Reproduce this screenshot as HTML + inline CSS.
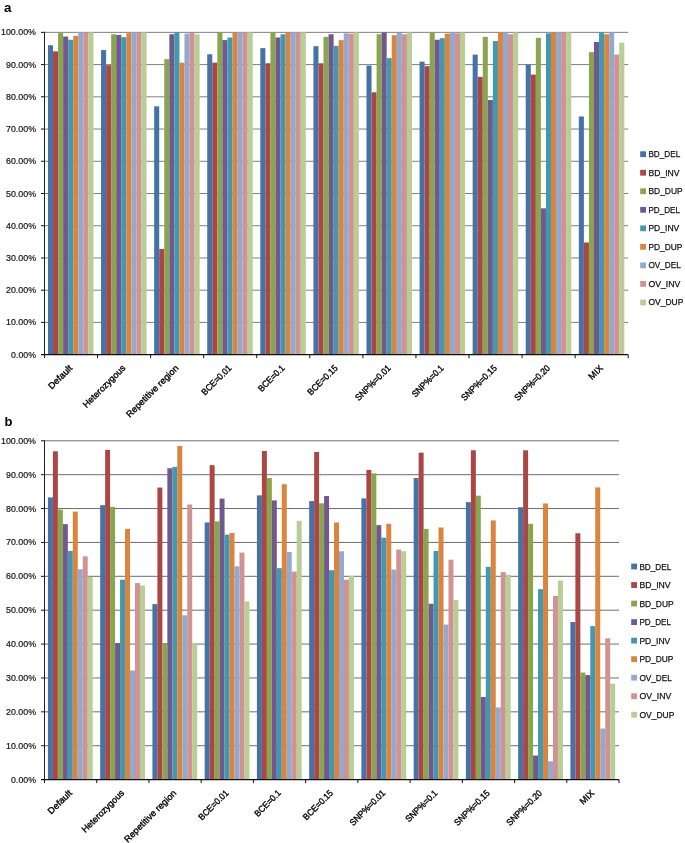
<!DOCTYPE html>
<html lang="en">
<head>
<meta charset="utf-8">
<title>Figure</title>
<style>
html,body{margin:0;padding:0;background:#fff;}
body{width:685px;height:843px;overflow:hidden;font-family:"Liberation Sans",sans-serif;}
svg{display:block;}
text{font-family:"Liberation Sans",sans-serif;fill:#1a1a1a;}
.yl{font-size:9.6px;fill:#111;stroke:#111;stroke-width:0.2px;}
.xl{font-size:9px;fill:#000;stroke:#000;stroke-width:0.35px;}
.lg{font-size:9.3px;fill:#111;stroke:#111;stroke-width:0.25px;}
.pl{font-weight:bold;fill:#000;}
</style>
</head>
<body>
<svg width="685" height="843" viewBox="0 0 685 843">
<rect x="0" y="0" width="685" height="843" fill="#ffffff"/>
<text x="4.1" y="12.1" class="pl" style="font-size:13.3px">a</text>
<text x="4.6" y="426.2" class="pl" style="font-size:13px">b</text>
<line x1="44.5" y1="322.42" x2="628.2" y2="322.42" stroke="#808080" stroke-width="1"/>
<line x1="44.5" y1="290.19" x2="628.2" y2="290.19" stroke="#808080" stroke-width="1"/>
<line x1="44.5" y1="257.96" x2="628.2" y2="257.96" stroke="#808080" stroke-width="1"/>
<line x1="44.5" y1="225.73" x2="628.2" y2="225.73" stroke="#808080" stroke-width="1"/>
<line x1="44.5" y1="193.50" x2="628.2" y2="193.50" stroke="#808080" stroke-width="1"/>
<line x1="44.5" y1="161.27" x2="628.2" y2="161.27" stroke="#808080" stroke-width="1"/>
<line x1="44.5" y1="129.04" x2="628.2" y2="129.04" stroke="#808080" stroke-width="1"/>
<line x1="44.5" y1="96.81" x2="628.2" y2="96.81" stroke="#808080" stroke-width="1"/>
<line x1="44.5" y1="64.58" x2="628.2" y2="64.58" stroke="#808080" stroke-width="1"/>
<line x1="44.5" y1="32.35" x2="628.2" y2="32.35" stroke="#808080" stroke-width="1"/>
<rect x="47.99" y="45.24" width="5.05" height="309.41" fill="#4572A7"/>
<rect x="53.04" y="51.37" width="5.05" height="303.28" fill="#AA4643"/>
<rect x="58.10" y="32.99" width="5.05" height="321.66" fill="#89A54E"/>
<rect x="63.15" y="36.54" width="5.05" height="318.11" fill="#71588F"/>
<rect x="68.20" y="39.76" width="5.05" height="314.89" fill="#4198AF"/>
<rect x="73.26" y="35.90" width="5.05" height="318.75" fill="#DB843D"/>
<rect x="78.31" y="32.35" width="5.05" height="322.30" fill="#93A9CF"/>
<rect x="83.37" y="32.35" width="5.05" height="322.30" fill="#D19392"/>
<rect x="88.42" y="32.35" width="5.05" height="322.30" fill="#B9CD96"/>
<rect x="101.07" y="50.08" width="5.05" height="304.57" fill="#4572A7"/>
<rect x="106.13" y="65.22" width="5.05" height="289.43" fill="#AA4643"/>
<rect x="111.18" y="34.28" width="5.05" height="320.37" fill="#89A54E"/>
<rect x="116.23" y="34.93" width="5.05" height="319.72" fill="#71588F"/>
<rect x="121.29" y="37.18" width="5.05" height="317.47" fill="#4198AF"/>
<rect x="126.34" y="33.16" width="5.05" height="321.49" fill="#DB843D"/>
<rect x="131.40" y="32.35" width="5.05" height="322.30" fill="#93A9CF"/>
<rect x="136.45" y="32.35" width="5.05" height="322.30" fill="#D19392"/>
<rect x="141.50" y="32.35" width="5.05" height="322.30" fill="#B9CD96"/>
<rect x="154.16" y="106.32" width="5.05" height="248.33" fill="#4572A7"/>
<rect x="159.21" y="248.94" width="5.05" height="105.71" fill="#AA4643"/>
<rect x="164.26" y="59.10" width="5.05" height="295.55" fill="#89A54E"/>
<rect x="169.32" y="34.28" width="5.05" height="320.37" fill="#71588F"/>
<rect x="174.37" y="32.35" width="5.05" height="322.30" fill="#4198AF"/>
<rect x="179.43" y="62.65" width="5.05" height="292.00" fill="#DB843D"/>
<rect x="184.48" y="33.64" width="5.05" height="321.01" fill="#93A9CF"/>
<rect x="189.53" y="32.99" width="5.05" height="321.66" fill="#D19392"/>
<rect x="194.59" y="34.28" width="5.05" height="320.37" fill="#B9CD96"/>
<rect x="207.24" y="54.27" width="5.05" height="300.38" fill="#4572A7"/>
<rect x="212.29" y="62.65" width="5.05" height="292.00" fill="#AA4643"/>
<rect x="217.35" y="32.35" width="5.05" height="322.30" fill="#89A54E"/>
<rect x="222.40" y="40.09" width="5.05" height="314.56" fill="#71588F"/>
<rect x="227.46" y="37.51" width="5.05" height="317.14" fill="#4198AF"/>
<rect x="232.51" y="32.67" width="5.05" height="321.98" fill="#DB843D"/>
<rect x="237.56" y="32.35" width="5.05" height="322.30" fill="#93A9CF"/>
<rect x="242.62" y="32.35" width="5.05" height="322.30" fill="#D19392"/>
<rect x="247.67" y="32.35" width="5.05" height="322.30" fill="#B9CD96"/>
<rect x="260.32" y="48.14" width="5.05" height="306.51" fill="#4572A7"/>
<rect x="265.38" y="63.29" width="5.05" height="291.36" fill="#AA4643"/>
<rect x="270.43" y="32.35" width="5.05" height="322.30" fill="#89A54E"/>
<rect x="275.49" y="37.51" width="5.05" height="317.14" fill="#71588F"/>
<rect x="280.54" y="34.28" width="5.05" height="320.37" fill="#4198AF"/>
<rect x="285.59" y="32.35" width="5.05" height="322.30" fill="#DB843D"/>
<rect x="290.65" y="32.35" width="5.05" height="322.30" fill="#93A9CF"/>
<rect x="295.70" y="32.35" width="5.05" height="322.30" fill="#D19392"/>
<rect x="300.75" y="32.35" width="5.05" height="322.30" fill="#B9CD96"/>
<rect x="313.41" y="46.21" width="5.05" height="308.44" fill="#4572A7"/>
<rect x="318.46" y="63.29" width="5.05" height="291.36" fill="#AA4643"/>
<rect x="323.52" y="36.86" width="5.05" height="317.79" fill="#89A54E"/>
<rect x="328.57" y="34.28" width="5.05" height="320.37" fill="#71588F"/>
<rect x="333.62" y="45.89" width="5.05" height="308.76" fill="#4198AF"/>
<rect x="338.68" y="40.09" width="5.05" height="314.56" fill="#DB843D"/>
<rect x="343.73" y="33.32" width="5.05" height="321.33" fill="#93A9CF"/>
<rect x="348.78" y="33.64" width="5.05" height="321.01" fill="#D19392"/>
<rect x="353.84" y="32.35" width="5.05" height="322.30" fill="#B9CD96"/>
<rect x="366.49" y="65.55" width="5.05" height="289.10" fill="#4572A7"/>
<rect x="371.55" y="92.30" width="5.05" height="262.35" fill="#AA4643"/>
<rect x="376.60" y="34.28" width="5.05" height="320.37" fill="#89A54E"/>
<rect x="381.65" y="32.35" width="5.05" height="322.30" fill="#71588F"/>
<rect x="386.71" y="58.13" width="5.05" height="296.52" fill="#4198AF"/>
<rect x="391.76" y="35.25" width="5.05" height="319.40" fill="#DB843D"/>
<rect x="396.81" y="32.99" width="5.05" height="321.66" fill="#93A9CF"/>
<rect x="401.87" y="34.28" width="5.05" height="320.37" fill="#D19392"/>
<rect x="406.92" y="32.35" width="5.05" height="322.30" fill="#B9CD96"/>
<rect x="419.58" y="61.68" width="5.05" height="292.97" fill="#4572A7"/>
<rect x="424.63" y="66.19" width="5.05" height="288.46" fill="#AA4643"/>
<rect x="429.68" y="32.35" width="5.05" height="322.30" fill="#89A54E"/>
<rect x="434.74" y="39.76" width="5.05" height="314.89" fill="#71588F"/>
<rect x="439.79" y="38.15" width="5.05" height="316.50" fill="#4198AF"/>
<rect x="444.84" y="33.64" width="5.05" height="321.01" fill="#DB843D"/>
<rect x="449.90" y="32.35" width="5.05" height="322.30" fill="#93A9CF"/>
<rect x="454.95" y="33.32" width="5.05" height="321.33" fill="#D19392"/>
<rect x="460.01" y="32.35" width="5.05" height="322.30" fill="#B9CD96"/>
<rect x="472.66" y="54.59" width="5.05" height="300.06" fill="#4572A7"/>
<rect x="477.71" y="76.83" width="5.05" height="277.82" fill="#AA4643"/>
<rect x="482.77" y="36.86" width="5.05" height="317.79" fill="#89A54E"/>
<rect x="487.82" y="100.03" width="5.05" height="254.62" fill="#71588F"/>
<rect x="492.87" y="41.05" width="5.05" height="313.60" fill="#4198AF"/>
<rect x="497.93" y="32.35" width="5.05" height="322.30" fill="#DB843D"/>
<rect x="502.98" y="32.35" width="5.05" height="322.30" fill="#93A9CF"/>
<rect x="508.04" y="34.28" width="5.05" height="320.37" fill="#D19392"/>
<rect x="513.09" y="32.35" width="5.05" height="322.30" fill="#B9CD96"/>
<rect x="525.74" y="64.58" width="5.05" height="290.07" fill="#4572A7"/>
<rect x="530.80" y="74.57" width="5.05" height="280.08" fill="#AA4643"/>
<rect x="535.85" y="37.83" width="5.05" height="316.82" fill="#89A54E"/>
<rect x="540.90" y="208.33" width="5.05" height="146.32" fill="#71588F"/>
<rect x="545.96" y="33.32" width="5.05" height="321.33" fill="#4198AF"/>
<rect x="551.01" y="32.35" width="5.05" height="322.30" fill="#DB843D"/>
<rect x="556.07" y="32.35" width="5.05" height="322.30" fill="#93A9CF"/>
<rect x="561.12" y="32.35" width="5.05" height="322.30" fill="#D19392"/>
<rect x="566.17" y="32.35" width="5.05" height="322.30" fill="#B9CD96"/>
<rect x="578.83" y="116.47" width="5.05" height="238.18" fill="#4572A7"/>
<rect x="583.88" y="242.49" width="5.05" height="112.16" fill="#AA4643"/>
<rect x="588.93" y="52.17" width="5.05" height="302.48" fill="#89A54E"/>
<rect x="593.99" y="42.02" width="5.05" height="312.63" fill="#71588F"/>
<rect x="599.04" y="32.35" width="5.05" height="322.30" fill="#4198AF"/>
<rect x="604.10" y="34.28" width="5.05" height="320.37" fill="#DB843D"/>
<rect x="609.15" y="32.35" width="5.05" height="322.30" fill="#93A9CF"/>
<rect x="614.20" y="54.59" width="5.05" height="300.06" fill="#D19392"/>
<rect x="619.26" y="42.66" width="5.05" height="311.99" fill="#B9CD96"/>
<line x1="44.5" y1="31.85" x2="44.5" y2="358.15" stroke="#222" stroke-width="1"/>
<line x1="41.0" y1="354.65" x2="628.2" y2="354.65" stroke="#111" stroke-width="1.2"/>
<line x1="41.0" y1="322.42" x2="44.5" y2="322.42" stroke="#111" stroke-width="1"/>
<line x1="41.0" y1="290.19" x2="44.5" y2="290.19" stroke="#111" stroke-width="1"/>
<line x1="41.0" y1="257.96" x2="44.5" y2="257.96" stroke="#111" stroke-width="1"/>
<line x1="41.0" y1="225.73" x2="44.5" y2="225.73" stroke="#111" stroke-width="1"/>
<line x1="41.0" y1="193.50" x2="44.5" y2="193.50" stroke="#111" stroke-width="1"/>
<line x1="41.0" y1="161.27" x2="44.5" y2="161.27" stroke="#111" stroke-width="1"/>
<line x1="41.0" y1="129.04" x2="44.5" y2="129.04" stroke="#111" stroke-width="1"/>
<line x1="41.0" y1="96.81" x2="44.5" y2="96.81" stroke="#111" stroke-width="1"/>
<line x1="41.0" y1="64.58" x2="44.5" y2="64.58" stroke="#111" stroke-width="1"/>
<line x1="41.0" y1="32.35" x2="44.5" y2="32.35" stroke="#111" stroke-width="1"/>
<line x1="97.56" y1="354.65" x2="97.56" y2="358.15" stroke="#111" stroke-width="1"/>
<line x1="150.63" y1="354.65" x2="150.63" y2="358.15" stroke="#111" stroke-width="1"/>
<line x1="203.69" y1="354.65" x2="203.69" y2="358.15" stroke="#111" stroke-width="1"/>
<line x1="256.75" y1="354.65" x2="256.75" y2="358.15" stroke="#111" stroke-width="1"/>
<line x1="309.82" y1="354.65" x2="309.82" y2="358.15" stroke="#111" stroke-width="1"/>
<line x1="362.88" y1="354.65" x2="362.88" y2="358.15" stroke="#111" stroke-width="1"/>
<line x1="415.95" y1="354.65" x2="415.95" y2="358.15" stroke="#111" stroke-width="1"/>
<line x1="469.01" y1="354.65" x2="469.01" y2="358.15" stroke="#111" stroke-width="1"/>
<line x1="522.07" y1="354.65" x2="522.07" y2="358.15" stroke="#111" stroke-width="1"/>
<line x1="575.14" y1="354.65" x2="575.14" y2="358.15" stroke="#111" stroke-width="1"/>
<line x1="628.20" y1="354.65" x2="628.20" y2="358.15" stroke="#111" stroke-width="1"/>
<text x="36.0" y="357.65" text-anchor="end" textLength="24.9" lengthAdjust="spacingAndGlyphs" class="yl">0.00%</text>
<text x="36.0" y="325.42" text-anchor="end" textLength="30.0" lengthAdjust="spacingAndGlyphs" class="yl">10.00%</text>
<text x="36.0" y="293.19" text-anchor="end" textLength="30.0" lengthAdjust="spacingAndGlyphs" class="yl">20.00%</text>
<text x="36.0" y="260.96" text-anchor="end" textLength="30.0" lengthAdjust="spacingAndGlyphs" class="yl">30.00%</text>
<text x="36.0" y="228.73" text-anchor="end" textLength="30.0" lengthAdjust="spacingAndGlyphs" class="yl">40.00%</text>
<text x="36.0" y="196.50" text-anchor="end" textLength="30.0" lengthAdjust="spacingAndGlyphs" class="yl">50.00%</text>
<text x="36.0" y="164.27" text-anchor="end" textLength="30.0" lengthAdjust="spacingAndGlyphs" class="yl">60.00%</text>
<text x="36.0" y="132.04" text-anchor="end" textLength="30.0" lengthAdjust="spacingAndGlyphs" class="yl">70.00%</text>
<text x="36.0" y="99.81" text-anchor="end" textLength="30.0" lengthAdjust="spacingAndGlyphs" class="yl">80.00%</text>
<text x="36.0" y="67.58" text-anchor="end" textLength="30.0" lengthAdjust="spacingAndGlyphs" class="yl">90.00%</text>
<text x="36.0" y="35.35" text-anchor="end" textLength="35.0" lengthAdjust="spacingAndGlyphs" class="yl">100.00%</text>
<text transform="translate(72.93,368.65) rotate(-45)" text-anchor="end" textLength="29.9" lengthAdjust="spacingAndGlyphs" class="xl">Default</text>
<text transform="translate(126.00,368.65) rotate(-45)" text-anchor="end" textLength="55.9" lengthAdjust="spacingAndGlyphs" class="xl">Heterozygous</text>
<text transform="translate(179.06,368.65) rotate(-45)" text-anchor="end" textLength="69.7" lengthAdjust="spacingAndGlyphs" class="xl">Repetitive region</text>
<text transform="translate(232.12,368.65) rotate(-45)" text-anchor="end" textLength="38.4" lengthAdjust="spacingAndGlyphs" class="xl">BCE=0.01</text>
<text transform="translate(285.19,368.65) rotate(-45)" text-anchor="end" textLength="33.3" lengthAdjust="spacingAndGlyphs" class="xl">BCE=0.1</text>
<text transform="translate(338.25,368.65) rotate(-45)" text-anchor="end" textLength="38.4" lengthAdjust="spacingAndGlyphs" class="xl">BCE=0.15</text>
<text transform="translate(391.31,368.65) rotate(-45)" text-anchor="end" textLength="46.1" lengthAdjust="spacingAndGlyphs" class="xl">SNP%=0.01</text>
<text transform="translate(444.38,368.65) rotate(-45)" text-anchor="end" textLength="41.0" lengthAdjust="spacingAndGlyphs" class="xl">SNP%=0.1</text>
<text transform="translate(497.44,368.65) rotate(-45)" text-anchor="end" textLength="46.1" lengthAdjust="spacingAndGlyphs" class="xl">SNP%=0.15</text>
<text transform="translate(550.50,368.65) rotate(-45)" text-anchor="end" textLength="46.1" lengthAdjust="spacingAndGlyphs" class="xl">SNP%=0.20</text>
<text transform="translate(603.57,368.65) rotate(-45)" text-anchor="end" textLength="16.3" lengthAdjust="spacingAndGlyphs" class="xl">MIX</text>
<rect x="640.2" y="151.30" width="5.8" height="5.8" fill="#4572A7"/>
<text x="648.4000000000001" y="157.25" textLength="31.8" lengthAdjust="spacingAndGlyphs" class="lg">BD_DEL</text>
<rect x="640.2" y="169.83" width="5.8" height="5.8" fill="#AA4643"/>
<text x="648.4000000000001" y="175.78" textLength="31.2" lengthAdjust="spacingAndGlyphs" class="lg">BD_INV</text>
<rect x="640.2" y="188.36" width="5.8" height="5.8" fill="#89A54E"/>
<text x="648.4000000000001" y="194.31" textLength="34.3" lengthAdjust="spacingAndGlyphs" class="lg">BD_DUP</text>
<rect x="640.2" y="206.89" width="5.8" height="5.8" fill="#71588F"/>
<text x="648.4000000000001" y="212.84" textLength="31.5" lengthAdjust="spacingAndGlyphs" class="lg">PD_DEL</text>
<rect x="640.2" y="225.42" width="5.8" height="5.8" fill="#4198AF"/>
<text x="648.4000000000001" y="231.37" textLength="30.9" lengthAdjust="spacingAndGlyphs" class="lg">PD_INV</text>
<rect x="640.2" y="243.95" width="5.8" height="5.8" fill="#DB843D"/>
<text x="648.4000000000001" y="249.90" textLength="34.0" lengthAdjust="spacingAndGlyphs" class="lg">PD_DUP</text>
<rect x="640.2" y="262.48" width="5.8" height="5.8" fill="#93A9CF"/>
<text x="648.4000000000001" y="268.43" textLength="32.5" lengthAdjust="spacingAndGlyphs" class="lg">OV_DEL</text>
<rect x="640.2" y="281.01" width="5.8" height="5.8" fill="#D19392"/>
<text x="648.4000000000001" y="286.96" textLength="31.9" lengthAdjust="spacingAndGlyphs" class="lg">OV_INV</text>
<rect x="640.2" y="299.54" width="5.8" height="5.8" fill="#B9CD96"/>
<text x="648.4000000000001" y="305.49" textLength="35.0" lengthAdjust="spacingAndGlyphs" class="lg">OV_DUP</text>
<line x1="44.5" y1="745.72" x2="619.0" y2="745.72" stroke="#6e6e6e" stroke-width="1"/>
<line x1="44.5" y1="711.84" x2="619.0" y2="711.84" stroke="#6e6e6e" stroke-width="1"/>
<line x1="44.5" y1="677.96" x2="619.0" y2="677.96" stroke="#6e6e6e" stroke-width="1"/>
<line x1="44.5" y1="644.08" x2="619.0" y2="644.08" stroke="#6e6e6e" stroke-width="1"/>
<line x1="44.5" y1="610.20" x2="619.0" y2="610.20" stroke="#6e6e6e" stroke-width="1"/>
<line x1="44.5" y1="576.32" x2="619.0" y2="576.32" stroke="#6e6e6e" stroke-width="1"/>
<line x1="44.5" y1="542.44" x2="619.0" y2="542.44" stroke="#6e6e6e" stroke-width="1"/>
<line x1="44.5" y1="508.56" x2="619.0" y2="508.56" stroke="#6e6e6e" stroke-width="1"/>
<line x1="44.5" y1="474.68" x2="619.0" y2="474.68" stroke="#6e6e6e" stroke-width="1"/>
<line x1="44.5" y1="440.80" x2="619.0" y2="440.80" stroke="#6e6e6e" stroke-width="1"/>
<rect x="47.93" y="497.38" width="4.97" height="282.22" fill="#4572A7"/>
<rect x="52.90" y="451.30" width="4.97" height="328.30" fill="#AA4643"/>
<rect x="57.88" y="509.58" width="4.97" height="270.02" fill="#89A54E"/>
<rect x="62.85" y="524.14" width="4.97" height="255.46" fill="#71588F"/>
<rect x="67.83" y="550.91" width="4.97" height="228.69" fill="#4198AF"/>
<rect x="72.80" y="511.61" width="4.97" height="267.99" fill="#DB843D"/>
<rect x="77.77" y="569.21" width="4.97" height="210.39" fill="#93A9CF"/>
<rect x="82.75" y="556.33" width="4.97" height="223.27" fill="#D19392"/>
<rect x="87.72" y="576.83" width="4.97" height="202.77" fill="#B9CD96"/>
<rect x="100.18" y="505.17" width="4.97" height="274.43" fill="#4572A7"/>
<rect x="105.15" y="449.95" width="4.97" height="329.65" fill="#AA4643"/>
<rect x="110.13" y="506.87" width="4.97" height="272.73" fill="#89A54E"/>
<rect x="115.10" y="643.06" width="4.97" height="136.54" fill="#71588F"/>
<rect x="120.07" y="579.71" width="4.97" height="199.89" fill="#4198AF"/>
<rect x="125.05" y="528.89" width="4.97" height="250.71" fill="#DB843D"/>
<rect x="130.02" y="670.51" width="4.97" height="109.09" fill="#93A9CF"/>
<rect x="135.00" y="583.10" width="4.97" height="196.50" fill="#D19392"/>
<rect x="139.97" y="585.47" width="4.97" height="194.13" fill="#B9CD96"/>
<rect x="152.43" y="604.10" width="4.97" height="175.50" fill="#4572A7"/>
<rect x="157.40" y="487.55" width="4.97" height="292.05" fill="#AA4643"/>
<rect x="162.37" y="643.06" width="4.97" height="136.54" fill="#89A54E"/>
<rect x="167.35" y="468.24" width="4.97" height="311.36" fill="#71588F"/>
<rect x="172.32" y="466.89" width="4.97" height="312.71" fill="#4198AF"/>
<rect x="177.30" y="445.88" width="4.97" height="333.72" fill="#DB843D"/>
<rect x="182.27" y="615.28" width="4.97" height="164.32" fill="#93A9CF"/>
<rect x="187.24" y="504.49" width="4.97" height="275.11" fill="#D19392"/>
<rect x="192.22" y="643.06" width="4.97" height="136.54" fill="#B9CD96"/>
<rect x="204.67" y="522.45" width="4.97" height="257.15" fill="#4572A7"/>
<rect x="209.65" y="465.19" width="4.97" height="314.41" fill="#AA4643"/>
<rect x="214.62" y="521.43" width="4.97" height="258.17" fill="#89A54E"/>
<rect x="219.59" y="498.57" width="4.97" height="281.03" fill="#71588F"/>
<rect x="224.57" y="534.65" width="4.97" height="244.95" fill="#4198AF"/>
<rect x="229.54" y="532.95" width="4.97" height="246.65" fill="#DB843D"/>
<rect x="234.52" y="566.33" width="4.97" height="213.27" fill="#93A9CF"/>
<rect x="239.49" y="552.60" width="4.97" height="227.00" fill="#D19392"/>
<rect x="244.46" y="601.39" width="4.97" height="178.21" fill="#B9CD96"/>
<rect x="256.92" y="495.35" width="4.97" height="284.25" fill="#4572A7"/>
<rect x="261.89" y="450.96" width="4.97" height="328.64" fill="#AA4643"/>
<rect x="266.87" y="478.07" width="4.97" height="301.53" fill="#89A54E"/>
<rect x="271.84" y="500.43" width="4.97" height="279.17" fill="#71588F"/>
<rect x="276.82" y="568.19" width="4.97" height="211.41" fill="#4198AF"/>
<rect x="281.79" y="484.17" width="4.97" height="295.43" fill="#DB843D"/>
<rect x="286.76" y="552.10" width="4.97" height="227.50" fill="#93A9CF"/>
<rect x="291.74" y="571.58" width="4.97" height="208.02" fill="#D19392"/>
<rect x="296.71" y="520.76" width="4.97" height="258.84" fill="#B9CD96"/>
<rect x="309.17" y="501.11" width="4.97" height="278.49" fill="#4572A7"/>
<rect x="314.14" y="451.98" width="4.97" height="327.62" fill="#AA4643"/>
<rect x="319.11" y="503.31" width="4.97" height="276.29" fill="#89A54E"/>
<rect x="324.09" y="496.02" width="4.97" height="283.58" fill="#71588F"/>
<rect x="329.06" y="570.22" width="4.97" height="209.38" fill="#4198AF"/>
<rect x="334.04" y="522.45" width="4.97" height="257.15" fill="#DB843D"/>
<rect x="339.01" y="551.25" width="4.97" height="228.35" fill="#93A9CF"/>
<rect x="343.99" y="579.71" width="4.97" height="199.89" fill="#D19392"/>
<rect x="348.96" y="575.98" width="4.97" height="203.62" fill="#B9CD96"/>
<rect x="361.41" y="498.40" width="4.97" height="281.20" fill="#4572A7"/>
<rect x="366.39" y="469.94" width="4.97" height="309.66" fill="#AA4643"/>
<rect x="371.36" y="473.32" width="4.97" height="306.28" fill="#89A54E"/>
<rect x="376.34" y="525.16" width="4.97" height="254.44" fill="#71588F"/>
<rect x="381.31" y="537.70" width="4.97" height="241.90" fill="#4198AF"/>
<rect x="386.28" y="523.81" width="4.97" height="255.79" fill="#DB843D"/>
<rect x="391.26" y="569.54" width="4.97" height="210.06" fill="#93A9CF"/>
<rect x="396.23" y="549.55" width="4.97" height="230.05" fill="#D19392"/>
<rect x="401.21" y="551.25" width="4.97" height="228.35" fill="#B9CD96"/>
<rect x="413.66" y="478.07" width="4.97" height="301.53" fill="#4572A7"/>
<rect x="418.64" y="452.66" width="4.97" height="326.94" fill="#AA4643"/>
<rect x="423.61" y="528.89" width="4.97" height="250.71" fill="#89A54E"/>
<rect x="428.58" y="603.76" width="4.97" height="175.84" fill="#71588F"/>
<rect x="433.56" y="550.91" width="4.97" height="228.69" fill="#4198AF"/>
<rect x="438.53" y="527.53" width="4.97" height="252.07" fill="#DB843D"/>
<rect x="443.51" y="624.60" width="4.97" height="155.00" fill="#93A9CF"/>
<rect x="448.48" y="559.72" width="4.97" height="219.88" fill="#D19392"/>
<rect x="453.45" y="600.04" width="4.97" height="179.56" fill="#B9CD96"/>
<rect x="465.91" y="502.12" width="4.97" height="277.48" fill="#4572A7"/>
<rect x="470.88" y="450.29" width="4.97" height="329.31" fill="#AA4643"/>
<rect x="475.86" y="495.69" width="4.97" height="283.91" fill="#89A54E"/>
<rect x="480.83" y="696.93" width="4.97" height="82.67" fill="#71588F"/>
<rect x="485.80" y="566.83" width="4.97" height="212.77" fill="#4198AF"/>
<rect x="490.78" y="520.42" width="4.97" height="259.18" fill="#DB843D"/>
<rect x="495.75" y="707.44" width="4.97" height="72.16" fill="#93A9CF"/>
<rect x="500.73" y="572.09" width="4.97" height="207.51" fill="#D19392"/>
<rect x="505.70" y="574.63" width="4.97" height="204.97" fill="#B9CD96"/>
<rect x="518.16" y="507.20" width="4.97" height="272.40" fill="#4572A7"/>
<rect x="523.13" y="450.29" width="4.97" height="329.31" fill="#AA4643"/>
<rect x="528.10" y="523.81" width="4.97" height="255.79" fill="#89A54E"/>
<rect x="533.08" y="755.55" width="4.97" height="24.05" fill="#71588F"/>
<rect x="538.05" y="589.19" width="4.97" height="190.41" fill="#4198AF"/>
<rect x="543.03" y="503.48" width="4.97" height="276.12" fill="#DB843D"/>
<rect x="548.00" y="761.30" width="4.97" height="18.30" fill="#93A9CF"/>
<rect x="552.97" y="595.97" width="4.97" height="183.63" fill="#D19392"/>
<rect x="557.95" y="580.56" width="4.97" height="199.04" fill="#B9CD96"/>
<rect x="570.40" y="622.06" width="4.97" height="157.54" fill="#4572A7"/>
<rect x="575.38" y="533.29" width="4.97" height="246.31" fill="#AA4643"/>
<rect x="580.35" y="672.54" width="4.97" height="107.06" fill="#89A54E"/>
<rect x="585.33" y="675.08" width="4.97" height="104.52" fill="#71588F"/>
<rect x="590.30" y="626.12" width="4.97" height="153.48" fill="#4198AF"/>
<rect x="595.27" y="487.39" width="4.97" height="292.21" fill="#DB843D"/>
<rect x="600.25" y="728.58" width="4.97" height="51.02" fill="#93A9CF"/>
<rect x="605.22" y="638.32" width="4.97" height="141.28" fill="#D19392"/>
<rect x="610.20" y="683.72" width="4.97" height="95.88" fill="#B9CD96"/>
<line x1="44.5" y1="440.3" x2="44.5" y2="783.1" stroke="#222" stroke-width="1"/>
<line x1="41.0" y1="779.6" x2="619.0" y2="779.6" stroke="#111" stroke-width="1.2"/>
<line x1="41.0" y1="745.72" x2="44.5" y2="745.72" stroke="#111" stroke-width="1"/>
<line x1="41.0" y1="711.84" x2="44.5" y2="711.84" stroke="#111" stroke-width="1"/>
<line x1="41.0" y1="677.96" x2="44.5" y2="677.96" stroke="#111" stroke-width="1"/>
<line x1="41.0" y1="644.08" x2="44.5" y2="644.08" stroke="#111" stroke-width="1"/>
<line x1="41.0" y1="610.20" x2="44.5" y2="610.20" stroke="#111" stroke-width="1"/>
<line x1="41.0" y1="576.32" x2="44.5" y2="576.32" stroke="#111" stroke-width="1"/>
<line x1="41.0" y1="542.44" x2="44.5" y2="542.44" stroke="#111" stroke-width="1"/>
<line x1="41.0" y1="508.56" x2="44.5" y2="508.56" stroke="#111" stroke-width="1"/>
<line x1="41.0" y1="474.68" x2="44.5" y2="474.68" stroke="#111" stroke-width="1"/>
<line x1="41.0" y1="440.80" x2="44.5" y2="440.80" stroke="#111" stroke-width="1"/>
<line x1="96.73" y1="779.6" x2="96.73" y2="783.1" stroke="#111" stroke-width="1"/>
<line x1="148.95" y1="779.6" x2="148.95" y2="783.1" stroke="#111" stroke-width="1"/>
<line x1="201.18" y1="779.6" x2="201.18" y2="783.1" stroke="#111" stroke-width="1"/>
<line x1="253.41" y1="779.6" x2="253.41" y2="783.1" stroke="#111" stroke-width="1"/>
<line x1="305.64" y1="779.6" x2="305.64" y2="783.1" stroke="#111" stroke-width="1"/>
<line x1="357.86" y1="779.6" x2="357.86" y2="783.1" stroke="#111" stroke-width="1"/>
<line x1="410.09" y1="779.6" x2="410.09" y2="783.1" stroke="#111" stroke-width="1"/>
<line x1="462.32" y1="779.6" x2="462.32" y2="783.1" stroke="#111" stroke-width="1"/>
<line x1="514.55" y1="779.6" x2="514.55" y2="783.1" stroke="#111" stroke-width="1"/>
<line x1="566.77" y1="779.6" x2="566.77" y2="783.1" stroke="#111" stroke-width="1"/>
<line x1="619.00" y1="779.6" x2="619.00" y2="783.1" stroke="#111" stroke-width="1"/>
<text x="36.0" y="782.60" text-anchor="end" textLength="24.9" lengthAdjust="spacingAndGlyphs" class="yl">0.00%</text>
<text x="36.0" y="748.72" text-anchor="end" textLength="30.0" lengthAdjust="spacingAndGlyphs" class="yl">10.00%</text>
<text x="36.0" y="714.84" text-anchor="end" textLength="30.0" lengthAdjust="spacingAndGlyphs" class="yl">20.00%</text>
<text x="36.0" y="680.96" text-anchor="end" textLength="30.0" lengthAdjust="spacingAndGlyphs" class="yl">30.00%</text>
<text x="36.0" y="647.08" text-anchor="end" textLength="30.0" lengthAdjust="spacingAndGlyphs" class="yl">40.00%</text>
<text x="36.0" y="613.20" text-anchor="end" textLength="30.0" lengthAdjust="spacingAndGlyphs" class="yl">50.00%</text>
<text x="36.0" y="579.32" text-anchor="end" textLength="30.0" lengthAdjust="spacingAndGlyphs" class="yl">60.00%</text>
<text x="36.0" y="545.44" text-anchor="end" textLength="30.0" lengthAdjust="spacingAndGlyphs" class="yl">70.00%</text>
<text x="36.0" y="511.56" text-anchor="end" textLength="30.0" lengthAdjust="spacingAndGlyphs" class="yl">80.00%</text>
<text x="36.0" y="477.68" text-anchor="end" textLength="30.0" lengthAdjust="spacingAndGlyphs" class="yl">90.00%</text>
<text x="36.0" y="443.80" text-anchor="end" textLength="35.0" lengthAdjust="spacingAndGlyphs" class="yl">100.00%</text>
<text transform="translate(72.51,793.60) rotate(-45)" text-anchor="end" textLength="29.9" lengthAdjust="spacingAndGlyphs" class="xl">Default</text>
<text transform="translate(124.74,793.60) rotate(-45)" text-anchor="end" textLength="55.9" lengthAdjust="spacingAndGlyphs" class="xl">Heterozygous</text>
<text transform="translate(176.97,793.60) rotate(-45)" text-anchor="end" textLength="69.7" lengthAdjust="spacingAndGlyphs" class="xl">Repetitive region</text>
<text transform="translate(229.20,793.60) rotate(-45)" text-anchor="end" textLength="38.4" lengthAdjust="spacingAndGlyphs" class="xl">BCE=0.01</text>
<text transform="translate(281.42,793.60) rotate(-45)" text-anchor="end" textLength="33.3" lengthAdjust="spacingAndGlyphs" class="xl">BCE=0.1</text>
<text transform="translate(333.65,793.60) rotate(-45)" text-anchor="end" textLength="38.4" lengthAdjust="spacingAndGlyphs" class="xl">BCE=0.15</text>
<text transform="translate(385.88,793.60) rotate(-45)" text-anchor="end" textLength="46.1" lengthAdjust="spacingAndGlyphs" class="xl">SNP%=0.01</text>
<text transform="translate(438.10,793.60) rotate(-45)" text-anchor="end" textLength="41.0" lengthAdjust="spacingAndGlyphs" class="xl">SNP%=0.1</text>
<text transform="translate(490.33,793.60) rotate(-45)" text-anchor="end" textLength="46.1" lengthAdjust="spacingAndGlyphs" class="xl">SNP%=0.15</text>
<text transform="translate(542.56,793.60) rotate(-45)" text-anchor="end" textLength="46.1" lengthAdjust="spacingAndGlyphs" class="xl">SNP%=0.20</text>
<text transform="translate(594.79,793.60) rotate(-45)" text-anchor="end" textLength="16.3" lengthAdjust="spacingAndGlyphs" class="xl">MIX</text>
<rect x="631.2" y="563.60" width="5.8" height="5.8" fill="#4572A7"/>
<text x="639.4000000000001" y="569.55" textLength="31.8" lengthAdjust="spacingAndGlyphs" class="lg">BD_DEL</text>
<rect x="631.2" y="582.13" width="5.8" height="5.8" fill="#AA4643"/>
<text x="639.4000000000001" y="588.08" textLength="31.2" lengthAdjust="spacingAndGlyphs" class="lg">BD_INV</text>
<rect x="631.2" y="600.66" width="5.8" height="5.8" fill="#89A54E"/>
<text x="639.4000000000001" y="606.61" textLength="34.3" lengthAdjust="spacingAndGlyphs" class="lg">BD_DUP</text>
<rect x="631.2" y="619.19" width="5.8" height="5.8" fill="#71588F"/>
<text x="639.4000000000001" y="625.14" textLength="31.5" lengthAdjust="spacingAndGlyphs" class="lg">PD_DEL</text>
<rect x="631.2" y="637.72" width="5.8" height="5.8" fill="#4198AF"/>
<text x="639.4000000000001" y="643.67" textLength="30.9" lengthAdjust="spacingAndGlyphs" class="lg">PD_INV</text>
<rect x="631.2" y="656.25" width="5.8" height="5.8" fill="#DB843D"/>
<text x="639.4000000000001" y="662.20" textLength="34.0" lengthAdjust="spacingAndGlyphs" class="lg">PD_DUP</text>
<rect x="631.2" y="674.78" width="5.8" height="5.8" fill="#93A9CF"/>
<text x="639.4000000000001" y="680.73" textLength="32.5" lengthAdjust="spacingAndGlyphs" class="lg">OV_DEL</text>
<rect x="631.2" y="693.31" width="5.8" height="5.8" fill="#D19392"/>
<text x="639.4000000000001" y="699.26" textLength="31.9" lengthAdjust="spacingAndGlyphs" class="lg">OV_INV</text>
<rect x="631.2" y="711.84" width="5.8" height="5.8" fill="#B9CD96"/>
<text x="639.4000000000001" y="717.79" textLength="35.0" lengthAdjust="spacingAndGlyphs" class="lg">OV_DUP</text>
</svg>
</body>
</html>
